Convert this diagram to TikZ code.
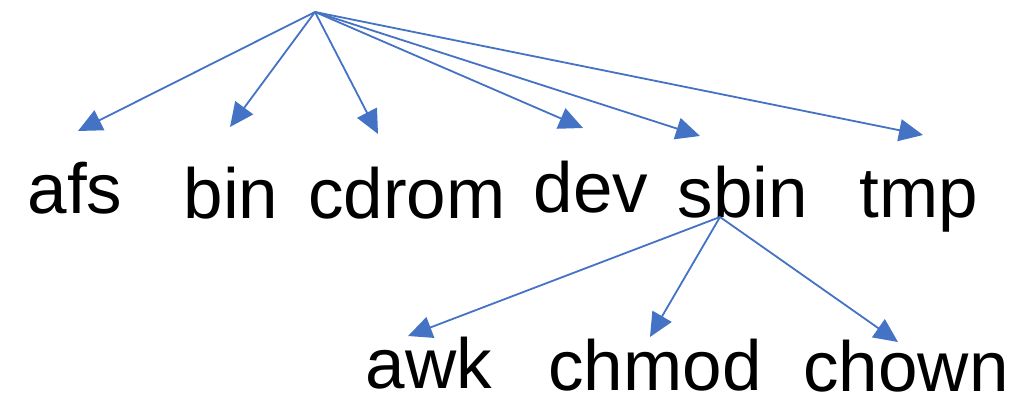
\documentclass[tikz,border=0pt]{standalone}
\usepackage{fontspec}
\setmainfont{Liberation Sans}
\usetikzlibrary{arrows.meta}
\definecolor{arrowblue}{HTML}{4472C4}
\tikzset{
  lbl/.style={anchor=base, inner sep=0pt, text depth=0pt, font=\fontsize{71}{80}\selectfont, text=black},
  link/.style={draw=arrowblue, line width=1.8pt, -{Triangle[length=24pt,width=22pt]}, fill=arrowblue}
}
\begin{document}
\begin{tikzpicture}[x=1pt,y=-1pt]
\useasboundingbox (0,0) rectangle (1031,396);
\coordinate (root) at (315,12);
\node[lbl] (afs) at (75,213) {afs};
\node[lbl] (bin) at (231,218) {bin};
\node[lbl] (cdrom) at (407,218) {cdrom};
\node[lbl] (dev) at (591,212) {dev};
\node[lbl] (sbin) at (743,217) {sbin};
\node[lbl] (tmp) at (919,217) {tmp};
\node[lbl] (awk) at (429,388) {awk};
\node[lbl] (chmod) at (655,390) {chmod};
\node[lbl] (chown) at (906,391) {chown};
\coordinate (sbinout) at (720,217);
\coordinate (afsin) at (78,131);
\coordinate (binin) at (230,127);
\coordinate (cdromin) at (378,134);
\coordinate (devin) at (583,128);
\coordinate (sbinin) at (700,136);
\coordinate (tmpin) at (923,135);
\coordinate (awkin) at (408,336);
\coordinate (chmodin) at (650,337);
\coordinate (chownin) at (898,342);
\draw[link] (root) -- (afsin);
\draw[link] (root) -- (binin);
\draw[link] (root) -- (cdromin);
\draw[link] (root) -- (devin);
\draw[link] (root) -- (sbinin);
\draw[link] (root) -- (tmpin);
\draw[link] (sbinout) -- (awkin);
\draw[link] (sbinout) -- (chmodin);
\draw[link] (sbinout) -- (chownin);
\end{tikzpicture}
\end{document}
